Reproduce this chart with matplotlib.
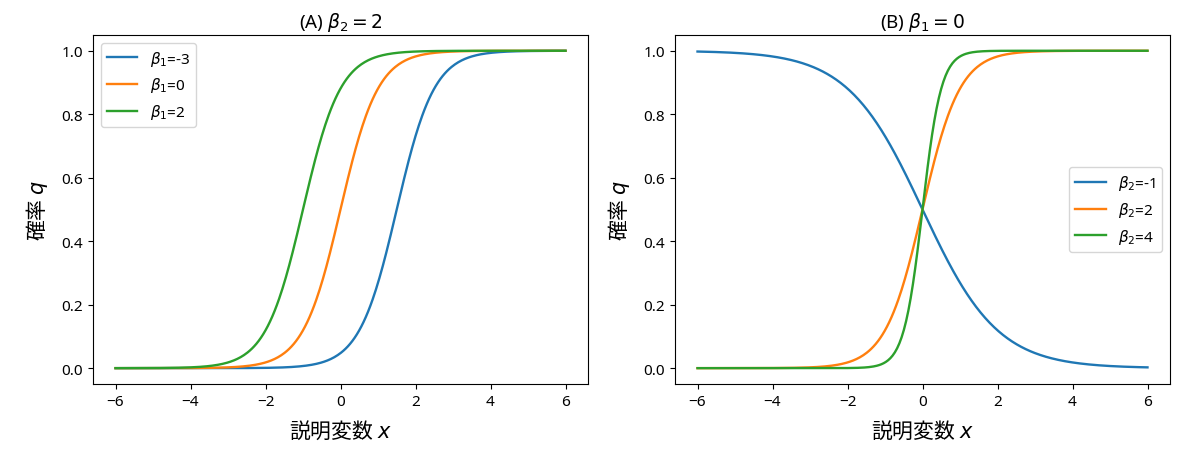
import numpy as np
import matplotlib
matplotlib.use("Agg")
import matplotlib.pyplot as plt

plt.rcParams['font.family'] = ['Noto Sans', 'DejaVu Sans']
plt.rcParams['mathtext.fontset'] = 'dejavusans'
plt.rcParams['axes.unicode_minus'] = True
jp_font = ['Noto Sans CJK JP', 'DejaVu Sans']

# パラメータ
x_min, x_max = -6, 6
beta1_list = [-3, 0, 2]      # (A) β2 = 2 固定
beta2_fixed = 2
beta2_list = [-1, 2, 4]      # (B) β1 = 0 固定
beta1_fixed = 0

def logistic(x, b1, b2):
    return 1.0 / (1.0 + np.exp(-(b1 + b2 * x)))

x = np.linspace(x_min, x_max, 400)

fig = plt.figure(figsize=(12, 4.6), dpi=100)
ax1 = fig.add_axes([0.0775, 0.163, 0.4125, 0.759])
ax2 = fig.add_axes([0.5625, 0.163, 0.4125, 0.759])

for b1 in beta1_list:
    ax1.plot(x, logistic(x, b1, beta2_fixed), lw=1.7, label=r'$\beta_1$=' + str(b1))
ax1.set_title(r'(A) $\beta_2 = 2$', fontsize=13.5)
ax1.legend(loc='upper left', fontsize=11)

for b2 in beta2_list:
    ax2.plot(x, logistic(x, beta1_fixed, b2), lw=1.7, label=r'$\beta_2$=' + str(b2))
ax2.set_title(r'(B) $\beta_1 = 0$', fontsize=13.5)
ax2.legend(loc='center right', fontsize=11)

for ax in (ax1, ax2):
    ax.set_xlabel(r'説明変数 $x$', fontsize=15, family=jp_font, labelpad=7)
    ax.set_ylabel(r'確率 $q$', fontsize=15, family=jp_font, labelpad=8)
    ax.set_xticks([-6, -4, -2, 0, 2, 4, 6])
    ax.set_yticks([0.0, 0.2, 0.4, 0.6, 0.8, 1.0])
    ax.tick_params(labelsize=11)

fig.savefig('out.png')
